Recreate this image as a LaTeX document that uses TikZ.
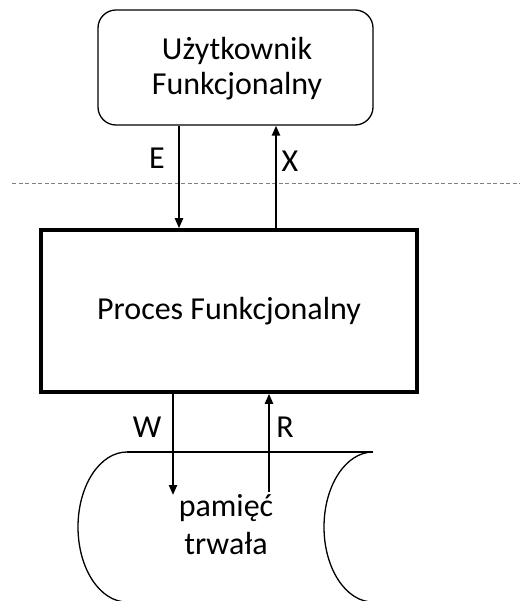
\documentclass[tikz,border=0pt]{standalone}
\usepackage{fontspec}
\setmainfont{Carlito}
\usetikzlibrary{arrows.meta}
\begin{document}
\begin{tikzpicture}[x=1pt,y=-1pt,
  txt/.style={font=\fontsize{32}{35}\selectfont, inner sep=0pt, align=center},
  ubox/.style={draw, line width=1.3pt, rounded corners=18pt, minimum width=275pt, minimum height=115pt},
  pbox/.style={txt, draw, line width=3.5pt, minimum width=376pt, minimum height=162pt},
  arr/.style={line width=2.2pt, -{Triangle[length=10pt,width=8pt]}},
  thin/.style={line width=1.3pt},
  sep/.style={gray, line width=0.8pt, dash pattern=on 4pt off 2.5pt}]
\useasboundingbox (0,0) rectangle (520,601);
\clip (0,0) rectangle (520,601);
% separator
\coordinate (sepL) at (12,183);
\coordinate (sepR) at (520,183);
\draw[sep] (sepL) -- (sepR);
% boxes
\node[ubox] (user) at (235.5,67.5) {};
\node[txt] (usertext) at (237,69) {Użytkownik\\Funkcjonalny};
\node[pbox] (proc) at (229,311) {Proces Funkcjonalny};
% arrow x positions
\coordinate (xE) at (179,0);
\coordinate (xX) at (276,0);
\coordinate (xW) at (173,0);
\coordinate (xR) at (269,0);
\coordinate (wend) at (173,495);
\coordinate (rstart) at (269,492);
\draw[arr] (user.south -| xE) -- (proc.north -| xE);
\draw[arr] (proc.north -| xX) -- (user.south -| xX);
\draw[arr] (proc.south -| xW) -- (wend);
\draw[arr] (rstart) -- (proc.south -| xR);
% labels
\node[txt] (lE) at (157,158) {E};
\node[txt] (lX) at (290,161) {X};
\node[txt] (lW) at (147,427) {W};
\node[txt] (lR) at (285,427) {R};
% storage drum
\coordinate (cTL) at (127,452);
\coordinate (cTR) at (373,452);
\draw[thin] (cTL) -- (cTR);
\draw[thin] (cTL) .. controls (99.9,452) and (78,485.6) .. (78,527)
  .. controls (78,568.4) and (99.9,602) .. (127,602);
\draw[thin] (cTR) .. controls (345.9,452) and (324,485.6) .. (324,527)
  .. controls (324,568.4) and (345.9,602) .. (373,602);
\node[txt, font=\fontsize{32}{38}\selectfont] (mem) at (226,525) {pamięć\\trwała};
\end{tikzpicture}
\end{document}
